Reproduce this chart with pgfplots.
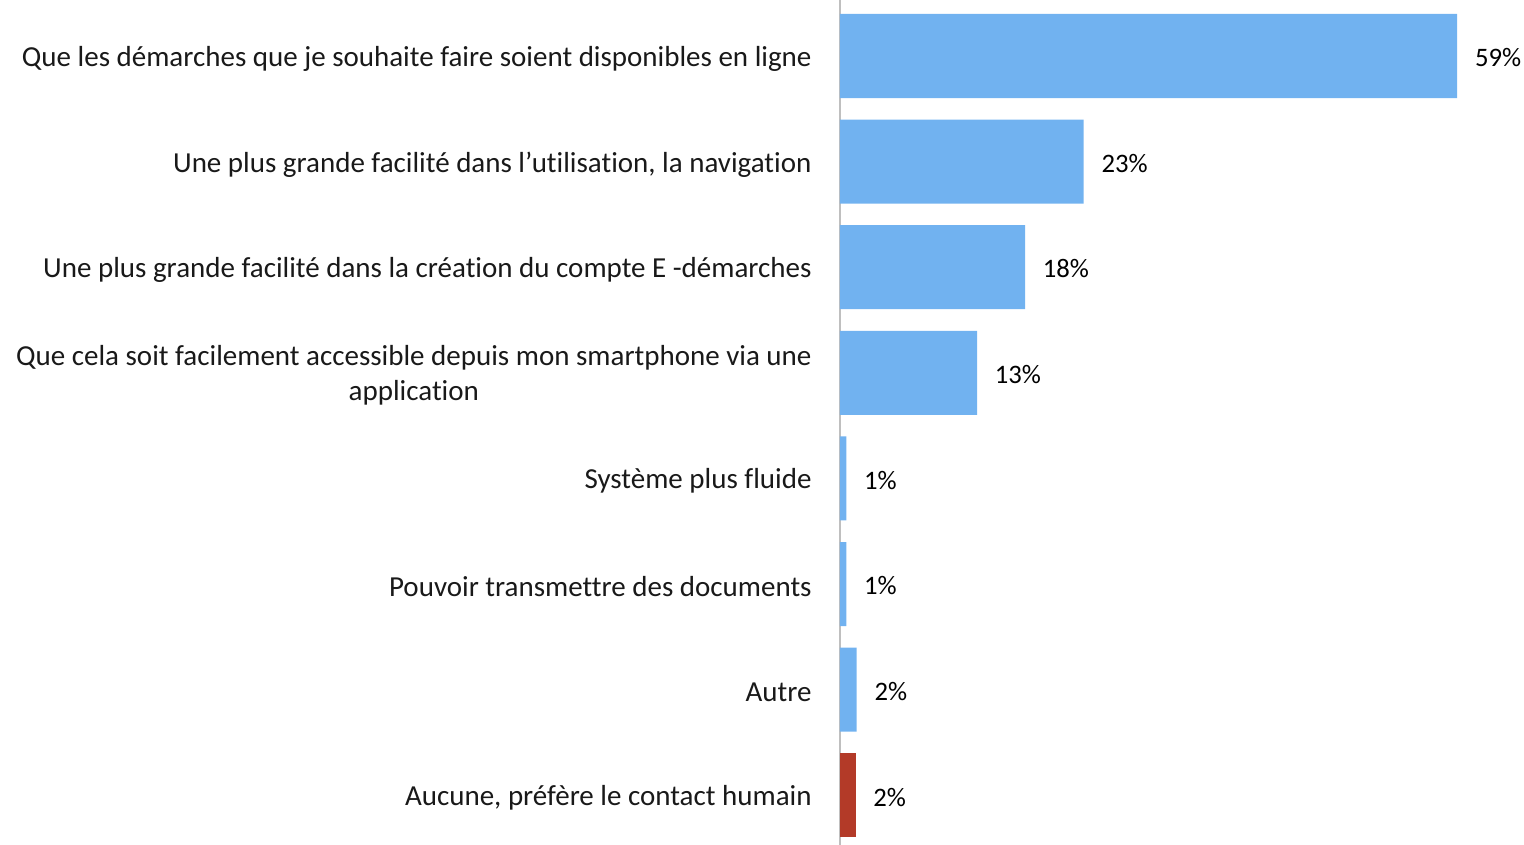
\documentclass[border=0pt]{standalone}
\usepackage{fontspec}
\setmainfont{Carlito}[Ligatures=NoCommon]
\usepackage{pgfplots}
\pgfplotsset{compat=1.18}
\definecolor{barblue}{HTML}{71B2F0}
\definecolor{barred}{HTML}{B33A28}
\definecolor{axisgray}{HTML}{BFBFBF}

\begin{document}
\begin{tikzpicture}[font=\fontsize{8.7}{10.4}\selectfont]
\path[use as bounding box] (-252pt,0) rectangle (205.2pt,253.5pt);
\begin{axis}[
    xbar,
    bar shift=0pt,
    bar width=25.2pt,
    scale only axis,
    width=204pt,
    height=253.5pt,
    xmin=0, xmax=65,
    ymin=-0.53, ymax=7.47,
    y dir=reverse,
    axis x line=none,
    axis y line*=left,
    y axis line style={axisgray, line width=0.6pt},
    major tick length=0pt,
    ytick={0,...,7},
    yticklabels={
        Que les démarches que je souhaite faire soient disponibles en ligne,
        {Une plus grande facilité dans l’utilisation, la navigation},
        Une plus grande facilité dans la création du compte E -démarches,
        {Que cela soit facilement accessible depuis mon smartphone via une\\application},
        Système plus fluide,
        Pouvoir transmettre des documents,
        Autre,
        {Aucune, préfère le contact humain}
    },
    yticklabel style={align=center, xshift=-5pt, yshift=-0.8pt, text=black!90},
    nodes near coords={\pgfmathprintnumber[fixed,precision=0,assume math mode=true]{\pgfplotspointmeta}\%},
    nodes near coords style={anchor=west, xshift=1.8pt, yshift=-0.5pt, black, font=\fontsize{8}{10}\selectfont},
    clip=false,
]
\addplot[fill=barblue, draw=none] coordinates {
    (59.0,0) (23.3,1) (17.7,2) (13.1,3) (0.6,4) (0.6,5) (1.6,6)
};
\addplot[fill=barred, draw=none] coordinates {
    (1.5,7)
};
\end{axis}
\end{tikzpicture}
\end{document}
